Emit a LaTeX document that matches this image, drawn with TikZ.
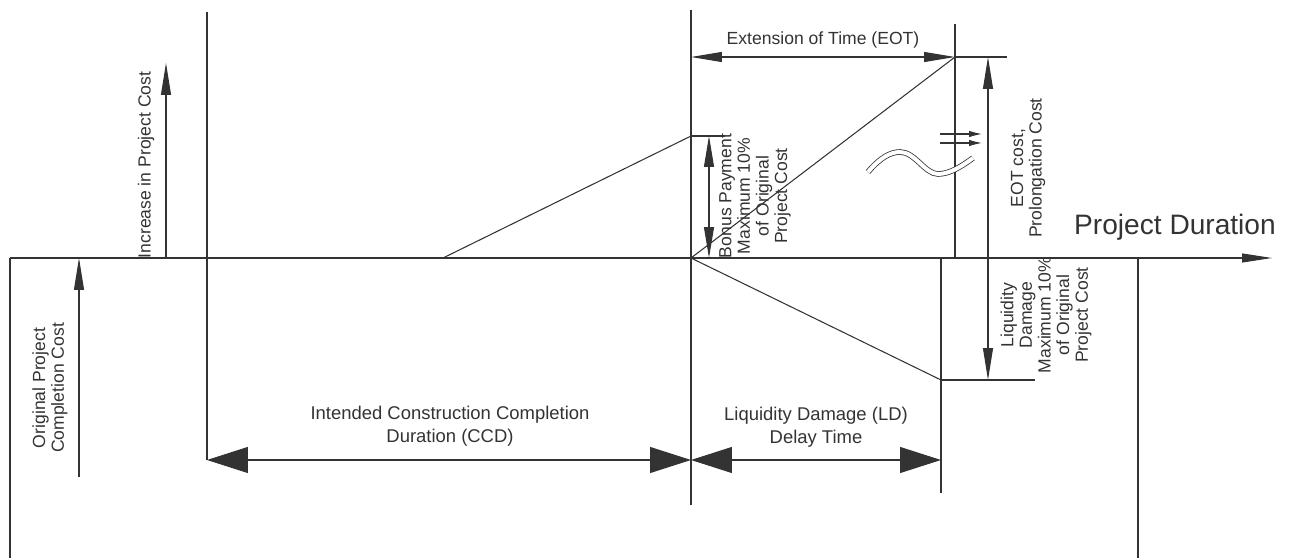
\documentclass[tikz,border=0pt]{standalone}
\usepackage{fontspec}
\setmainfont{Liberation Sans}
\usetikzlibrary{arrows.meta}
\definecolor{inkgray}{HTML}{333333}

\begin{document}
\begin{tikzpicture}[x=0.02cm, y=-0.02cm, line width=0.6pt, draw=inkgray,
    lbl/.style={font=\fontsize{10}{10.6}\selectfont, align=center, inner sep=0pt, text=inkgray},
    vlbl/.style={lbl, rotate=90},
    bigtip/.style={arrows={Triangle[length=8.2mm,width=5.2mm]-Triangle[length=8.2mm,width=5.2mm]}},
    thintip/.style={arrows={Triangle[length=6.2mm,width=2mm]-Triangle[length=6.2mm,width=2mm]}},
    onetip/.style={-{Triangle[length=6.4mm,width=2mm]}},
    smalltip/.style={-{Latex[length=2.6mm,width=1.3mm]}},
]
\useasboundingbox (0,0) rectangle (1289,560);

\coordinate (axL) at (10,258);
\coordinate (axR) at (1272,258);
\coordinate (axLow) at (10,558);
\coordinate (endAx) at (1138,258);
\coordinate (endLow) at (1138,558);
\coordinate (ccdTop) at (207,12);
\coordinate (ccdBot) at (207,460);
\coordinate (dlTop) at (691,10);
\coordinate (dl) at (691,258);
\coordinate (dlBot) at (691,505);
\coordinate (dlDim) at (691,460);
\coordinate (ldAx) at (941,258);
\coordinate (ldLow) at (941,380);
\coordinate (ldBot) at (941,493);
\coordinate (ldDim) at (941,460);
\coordinate (ldEnd) at (1035,380);
\coordinate (eotTop) at (955,24);
\coordinate (eotAx) at (955,258);
\coordinate (eotPk) at (955,57);
\coordinate (eotL) at (691,57);
\coordinate (costTop) at (988,57);
\coordinate (costEnd) at (1007,57);
\coordinate (costAx) at (988,258);
\coordinate (costLow) at (988,380);
\coordinate (rampSt) at (443,258);
\coordinate (bonusPk) at (691,136);
\coordinate (bonusEnd) at (725,136);

\draw[-{Triangle[length=6mm,width=1.8mm]}] (axL) -- (axR);
\draw (axL) -- (axLow);
\draw (endAx) -- (endLow);
\draw (ccdTop) -- (ccdBot);
\draw (dlTop) -- (dlBot);
\draw (ldAx) -- (ldBot);
\draw (eotTop) -- (eotAx);
\draw (eotPk) -- (costEnd);
\draw (ldLow) -- (ldEnd);
\draw (bonusPk) -- (bonusEnd);

\draw (rampSt) -- (bonusPk);
\draw (dl) -- (eotPk);
\draw (dl) -- (ldLow);

\draw[onetip] (166,258) -- (166,63);
\draw[onetip] (79,477) -- (79,258);
\draw[bigtip] (ccdBot) -- (dlDim);
\draw[bigtip] (dlDim) -- (ldDim);
\draw[thintip] (eotL) -- (eotPk);
\draw[thintip] (709,136) -- (709,258);
\draw[onetip] (costAx) -- (costTop);
\draw[onetip] (costAx) -- (costLow);

\draw[smalltip] (940,134) -- (982,134);
\draw[smalltip] (940,143) -- (982,143);
\draw[double, double distance=0.8mm, line width=0.45pt]
    (868,172) .. controls (880,158) and (890,152) .. (900,152)
    .. controls (915,152) and (925,174) .. (938,174)
    .. controls (950,174) and (962,166) .. (973,158);

\node[vlbl] (incr) at (146,165) {Increase in Project Cost};
\node[vlbl] (orig) at (50,388) {Original Project\\Completion Cost};
\node[vlbl] (bonus) at (755,196) {Bonus Payment\\Maximum 10\%\\of Original\\Project Cost};
\node[vlbl] (eotcost) at (1028,168) {EOT cost,\\Prolongation Cost};
\node[vlbl] (ldcost) at (1046,315) {Liquidity\\Damage\\Maximum 10\%\\of Original\\Project Cost};
\node[lbl] (eot) at (823,40) {Extension of Time (EOT)};
\node[lbl, font=\fontsize{10.5}{13}\selectfont] (ccd) at (450,426) {Intended Construction Completion\\Duration (CCD)};
\node[lbl, font=\fontsize{10.5}{13}\selectfont] (ldtime) at (816,427) {Liquidity Damage (LD)\\Delay Time};
\node[lbl, font=\fontsize{16}{18}\selectfont] (dur) at (1175,227) {Project Duration};
\end{tikzpicture}
\end{document}
